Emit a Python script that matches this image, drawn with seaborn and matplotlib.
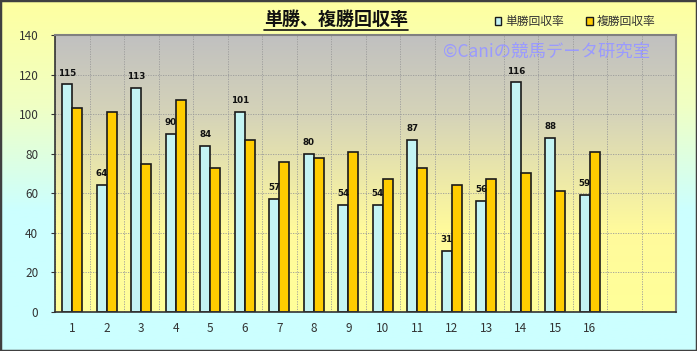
import numpy as np
import pandas as pd
import matplotlib
matplotlib.use("Agg")
import matplotlib.pyplot as plt
from matplotlib.colors import LinearSegmentedColormap
from matplotlib.patches import Patch, Rectangle
from matplotlib.lines import Line2D
import seaborn as sns

# data
races = [str(i) for i in range(1, 17)]
tansho = [115, 64, 113, 90, 84, 101, 57, 80, 54, 54, 87, 31, 56, 116, 88, 59]
fukusho = [103, 101, 75, 107, 73, 87, 76, 78, 81, 67, 73, 64, 67, 70, 61, 81]
series = ["単勝回収率", "複勝回収率"]
colors = ["#c4f4f4", "#ffcc00"]
n_slots = 18  # the axis leaves room for 18 races, only 16 are filled

df = pd.DataFrame({
    "race": races * 2,
    "rate": tansho + fukusho,
    "kind": [series[0]] * len(races) + [series[1]] * len(races),
})

sns.set_style("white")
plt.rcParams["font.family"] = ["Noto Sans CJK JP", "DejaVu Sans"]

fig = plt.figure(figsize=(6.97, 3.51), dpi=100)

# figure background: yellow at the top fading to pale cyan
bg = fig.add_axes([0, 0, 1, 1], zorder=-10)
bg_cmap = LinearSegmentedColormap.from_list(
    "bg", [(0, "#ffffa0"), (0.3, "#f0ffc4"), (0.6, "#ccffff"), (1, "#ccffff")])
bg.imshow(np.linspace(0, 1, 256).reshape(-1, 1), cmap=bg_cmap, aspect="auto",
          extent=[0, 1, 0, 1])
bg.axis("off")

rect = [55 / 697, 1 - 312 / 351, 621 / 697, 277 / 351]

# plot area background: grey at the top to yellow at the bottom
pa = fig.add_axes(rect, zorder=-5)
pa_cmap = LinearSegmentedColormap.from_list(
    "pa", [(0, "#c0c0c0"), (0.3, "#d6d4b8"), (0.7, "#fffa9c"), (1, "#ffff99")])
pa.imshow(np.linspace(0, 1, 256).reshape(-1, 1), cmap=pa_cmap, aspect="auto",
          extent=[0, 1, 0, 1])
pa.axis("off")

ax = fig.add_axes(rect)
ax.set_facecolor("none")

sns.barplot(data=df, x="race", y="rate", hue="kind", order=races,
            hue_order=series, palette=colors, saturation=1, width=0.58,
            gap=0, edgecolor="#1a1a1a", linewidth=1.2, legend=False, ax=ax)

ax.bar_label(ax.containers[0], labels=[str(v) for v in tansho], padding=5,
             fontsize=6.3, fontweight="bold", color="#111111",
             family="DejaVu Sans")

ax.set_xlim(-0.5, n_slots - 0.5)
ax.set_ylim(0, 140)
ax.set_yticks(range(0, 141, 20))
ax.set_xticks(np.arange(-0.5, n_slots), minor=True)
ax.set_xlabel("")
ax.set_ylabel("")

ax.set_axisbelow(True)
grid_kw = dict(ls=(0, (1.5, 1.5)), color="#9a9a9a", lw=0.6)
ax.grid(which="minor", axis="x", **grid_kw)
ax.grid(which="major", axis="y", **grid_kw)
ax.grid(which="major", axis="x", visible=False)

ax.tick_params(axis="x", which="major", length=0, pad=7, labelsize=8.5,
               labelcolor="#333333")
ax.tick_params(axis="x", which="minor", length=3, direction="in",
               color="#333333")
ax.tick_params(axis="y", which="major", length=3, direction="out", pad=9,
               labelsize=8.5, labelcolor="#333333", color="#333333", left=True)

for side in ["left", "bottom"]:
    ax.spines[side].set_color("#333333")
    ax.spines[side].set_linewidth(1.2)
for side in ["top", "right"]:
    ax.spines[side].set_color("#808080")
    ax.spines[side].set_linewidth(1.5)

# title with underline
title = fig.text(0.482, 1 - 19.5 / 351, "単勝、複勝回収率", ha="center",
                 va="center", fontsize=13, fontweight="bold", color="#111111")
fig.canvas.draw()
bb = title.get_window_extent(fig.canvas.get_renderer()).transformed(
    fig.transFigure.inverted())
fig.add_artist(Line2D([bb.x0, bb.x1], [bb.y0 - 0.004, bb.y0 - 0.004],
                      transform=fig.transFigure, color="#111111", lw=1.2))

# legend
handles = [Patch(facecolor=c, edgecolor="#1a1a1a", lw=1) for c in colors]
fig.legend(handles, series, loc="center left",
           bbox_to_anchor=(495 / 697, 1 - 21.7 / 351), ncol=2, frameon=False,
           fontsize=8.5, handlelength=0.55, handleheight=0.55,
           handletextpad=0.3, columnspacing=1.9, borderpad=0,
           borderaxespad=0, labelcolor="#333333")

# watermark
fig.text(547 / 697, 1 - 51.7 / 351, "©Caniの競馬データ研究室", ha="center",
         va="center", fontsize=12.5, color="#9a9aff")

# outer frame
fig.add_artist(Rectangle((0, 0), 1, 1, transform=fig.transFigure, fill=False,
                         ec="#404040", lw=2.5))

fig.savefig("out.png", dpi=100)
